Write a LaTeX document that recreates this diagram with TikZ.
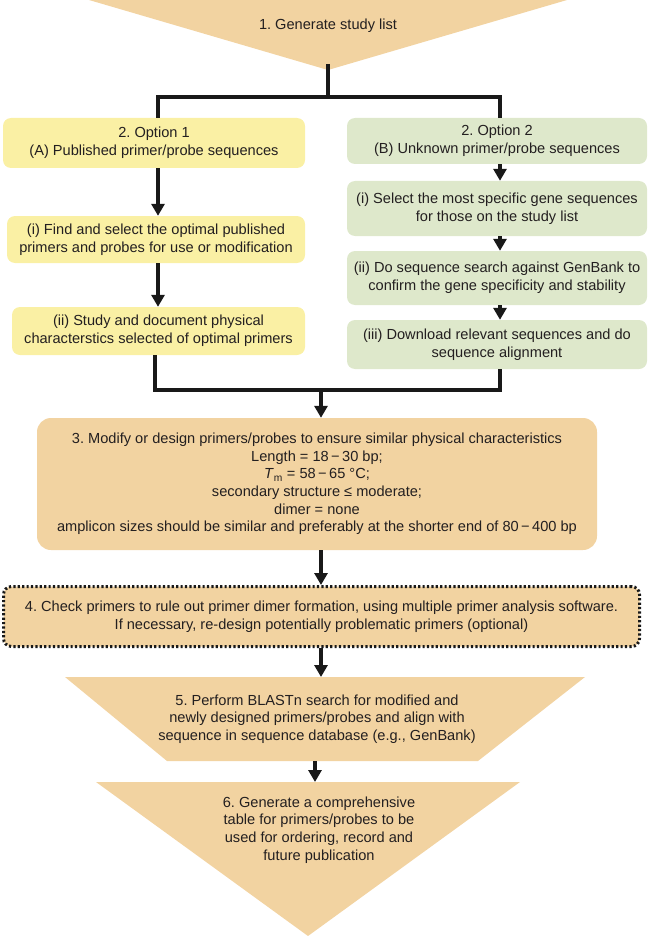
\documentclass[tikz,border=0pt]{standalone}
\usepackage{fontspec}
\setmainfont{Liberation Sans}
\usetikzlibrary{arrows.meta}
\definecolor{flowtan}{HTML}{F2D3A1}
\definecolor{flowyellow}{HTML}{FAF0A4}
\definecolor{flowgreen}{HTML}{DEE8CB}
\definecolor{flowtext}{HTML}{231F20}

\begin{document}
\begin{tikzpicture}[x=1pt, y=-1pt, font=\fontsize{14.6}{17.6}\selectfont\frenchspacing, text=flowtext,
    line/.style={line width=3.3pt, draw=black!90},
    arr/.style={line, -{Triangle[width=13pt,length=12pt]}},
    box/.style={rounded corners=8pt, inner sep=0pt, align=center},
    optA/.style={box, fill=flowyellow},
    optB/.style={box, fill=flowgreen, minimum width=300pt}]
    \useasboundingbox (0,0) rectangle (650,936);

    % Step 1: study list
    \fill[flowtan] (89,0) -- (567,0) -- (328,70) -- cycle;
    \node (gen) at (328,26) {1. Generate study list};
    \coordinate (t1) at (328,64);
    \coordinate (busL) at (158,97);
    \coordinate (busR) at (500,97);

    % Option 1 column
    \node[optA, minimum width=302pt, minimum height=50pt] (opt1) at (154,143) {2. Option 1\\(A) Published primer/probe sequences};
    \node[optA, minimum width=298pt, minimum height=47pt] (findA) at (156,239.5) {(i) Find and select the optimal published\\primers and probes for use or modification};
    \node[optA, minimum width=293pt, minimum height=48pt] (studyA) at (158.5,331) {(ii) Study and document physical\\characterstics selected of optimal primers};

    % Option 2 column
    \node[optB, minimum height=46pt] (opt2) at (497,141) {2. Option 2\\(B) Unknown primer/probe sequences};
    \node[optB, minimum height=55pt] (selB) at (497,208.5) {(i) Select the most specific gene sequences\\for those on the study list};
    \node[optB, minimum height=54pt] (searchB) at (497,278) {(ii) Do sequence search against GenBank to\\confirm the gene specificity and stability};
    \node[optB, minimum height=49pt] (dlB) at (497,344.5) {(iii) Download relevant sequences and do\\sequence alignment};

    % Split into the two options
    \draw[line] (t1) -- (t1 |- busL);
    \draw[line] (opt1.north -| busL) -- (busL) -- (busR) -- (opt2.north -| busR);
    \draw[arr] (opt1.south -| busL) -- (findA.north -| busL);
    \draw[arr] (findA.south -| busL) -- (studyA.north -| busL);
    \draw[arr] (opt2.south -| busR) -- (selB.north -| busR);
    \draw[arr] (selB.south -| busR) -- (searchB.north -| busR);
    \draw[arr] (searchB.south -| busR) -- (dlB.north -| busR);

    % Step 3: design
    \node[box, fill=flowtan, rounded corners=14pt, minimum width=560pt, minimum height=132pt] (mod) at (317,484) {3. Modify or design primers/probes to ensure similar physical characteristics\\Length = 18\,−\,30 bp;\\\textit{T}\textsubscript{m} = 58\,−\,65 °C;\\secondary structure ≤ moderate;\\dimer = none\\amplicon sizes should be similar and preferably at the shorter end of 80\,−\,400 bp};

    % Join the two options
    \coordinate (joinL) at (155,390);
    \coordinate (joinR) at (500,390);
    \coordinate (join) at (321,390);
    \draw[line] (studyA.south -| joinL) -- (joinL) -- (joinR) -- (dlB.south -| joinR);
    \draw[arr] (join) -- (mod.north -| join);

    % Step 4: dimer check (optional)
    \node[box, fill=flowtan, draw=black!90, line width=3pt, dash pattern=on 2.2pt off 2.2pt, minimum width=636pt, minimum height=60pt] (chk) at (321.5,616.5) {4. Check primers to rule out primer dimer formation, using multiple primer analysis software.\\If necessary, re-design potentially problematic primers (optional)};
    \draw[arr] (mod.south -| join) -- (chk.north -| join);

    % Step 5: BLASTn
    \fill[flowtan] (65,677) -- (585,677) -- (478,761) -- (167,761) -- cycle;
    \coordinate (p5top) at (321,677);
    \coordinate (p5bot) at (315,761);
    \node[align=center] (blast) at (317,719) {5. Perform BLASTn search for modified and\\newly designed primers/probes and align with\\sequence in sequence database (e.g., GenBank)};
    \draw[arr] (chk.south -| p5top) -- (p5top);

    % Step 6: table
    \fill[flowtan] (96,782) -- (520,782) -- (308,936) -- cycle;
    \coordinate (p6top) at (315,782);
    \node[align=center] (table) at (319,830) {6. Generate a comprehensive\\table for primers/probes to be\\used for ordering, record and\\future publication};
    \draw[arr] (p5bot) -- (p6top);
\end{tikzpicture}
\end{document}
